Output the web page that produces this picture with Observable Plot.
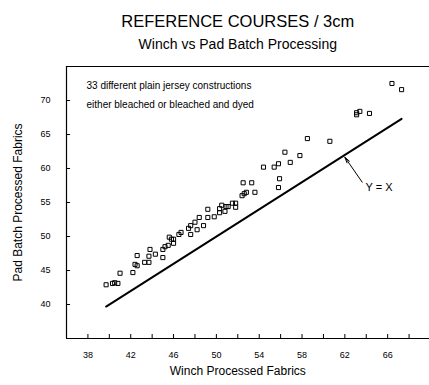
<!DOCTYPE html>
<html><head><meta charset="utf-8">
<script src="https://cdn.jsdelivr.net/npm/d3@7"></script>
<script src="https://cdn.jsdelivr.net/npm/@observablehq/plot@0.6"></script>
<style>html,body{margin:0;padding:0;background:#fff} svg{display:block}</style>
</head><body><div id="chart"></div>
<script>
const winch = [39.7,40.3,40.5,40.8,41.0,42.2,42.4,42.6,42.6,43.3,43.7,43.7,43.8,44.3,45.0,45.0,45.2,45.5,45.6,45.8,46.0,46.0,46.5,46.7,47.4,47.6,47.6,48.0,48.2,48.4,48.8,49.2,49.2,49.8,50.3,50.3,50.5,50.8,50.9,51.1,51.5,51.8,51.8,52.4,52.6,52.8,52.5,53.3,53.6,54.4,55.4,55.8,56.4,56.9,57.8,55.9,55.8,58.5,60.6,63.1,63.4,63.1,64.3,66.4,67.3];
const padBatch = [42.9,43.1,43.2,43.1,44.6,44.7,45.9,45.7,47.2,46.2,46.2,47.1,48.1,47.4,46.9,48.1,48.5,48.7,49.9,49.6,49.6,49.0,50.3,50.6,51.2,51.6,50.3,52.1,51.0,52.8,51.6,54.0,52.8,52.9,53.5,54.1,54.6,53.7,54.4,54.4,54.9,54.9,54.3,56.0,56.3,56.5,57.9,57.9,56.5,60.2,60.2,60.7,62.4,60.9,61.9,58.5,57.2,64.4,64.0,68.2,68.4,67.9,68.1,72.5,71.6];
const xTickLabels = [38,42,46,50,54,58,62,66];
const xTickMarks = [38,40,42,44,46,48,50,52,54,56,58,60,62,64,66,68];
const yTicks = [40,45,50,55,60,65,70];
const title = "REFERENCE COURSES / 3cm";
const subtitle = "Winch vs Pad Batch Processing";
const xLabel = "Winch Processed Fabrics";
const yLabel = "Pad Batch Processed Fabrics";
const notes = ["33 different plain jersey constructions", "either bleached or bleached and dyed"];
const lineLabel = "Y = X";

const rows = winch.map((w, i) => ({w, p: padBatch[i]}));
const ext = d3.extent(winch);
const font = "'Liberation Sans', Arial, sans-serif";

const chart = Plot.plot({
  width: 429, height: 385,
  marginLeft: 66, marginTop: 66, marginBottom: 47, marginRight: 0,
  style: {fontFamily: font, background: "#fff", color: "#000"},
  x: {domain: [36, 70], range: [66, 430]},
  y: {domain: [35, 75], range: [338, 66]},
  marks: [
    Plot.ruleY([75], {stroke: "#000", strokeWidth: 1.2}),
    Plot.ruleY([35], {stroke: "#000", strokeWidth: 1.2}),
    Plot.ruleX([36], {stroke: "#000", strokeWidth: 1.2}),
    Plot.axisX({ticks: xTickLabels, tickSize: 0, tickPadding: 13, fontSize: 9, label: null}),
    Plot.tickX(xTickMarks, {x: d => d, insetTop: 268, stroke: "#000"}),
    Plot.axisY({ticks: yTicks, tickSize: 0, tickPadding: 16, fontSize: 9, label: null}),
    Plot.tickY(yTicks, {y: d => d, insetRight: 359, stroke: "#000"}),
    Plot.line(ext, {x: d => d, y: d => d, stroke: "#000", strokeWidth: 2}),
    Plot.dot(rows, {x: "w", y: "p", symbol: "square", r: 2.3, stroke: "#000", fill: "none", strokeWidth: 1}),
    Plot.arrow([{x1: 63.62, y1: 57.99, x2: 62.0, y2: 61.66}], {x1: "x1", y1: "y1", x2: "x2", y2: "y2", stroke: "#000", strokeWidth: 1, headLength: 9, headAngle: 28}),
    Plot.text([lineLabel], {x: 63.94, y: 57.25, text: d => d, textAnchor: "start", fontSize: 11}),
    Plot.text([notes[0]], {x: 37.87, y: 72.2, text: d => d, textAnchor: "start", fontSize: 10}),
    Plot.text([notes[1]], {x: 37.87, y: 69.4, text: d => d, textAnchor: "start", fontSize: 10}),
    Plot.text([title], {x: 52, frameAnchor: "top", dy: -45, text: d => d, fontSize: 16.5, lineAnchor: "middle"}),
    Plot.text([subtitle], {x: 52, frameAnchor: "top", dy: -22, text: d => d, fontSize: 14, lineAnchor: "middle"}),
    Plot.text([xLabel], {x: 52, frameAnchor: "bottom", dy: 33, text: d => d, fontSize: 12, lineAnchor: "middle"}),
    Plot.text([yLabel], {frameAnchor: "left", dx: -48, rotate: -90, text: d => d, fontSize: 12, textAnchor: "middle", lineAnchor: "middle"})
  ]
});
document.getElementById("chart").append(chart);
</script>
</body></html>
